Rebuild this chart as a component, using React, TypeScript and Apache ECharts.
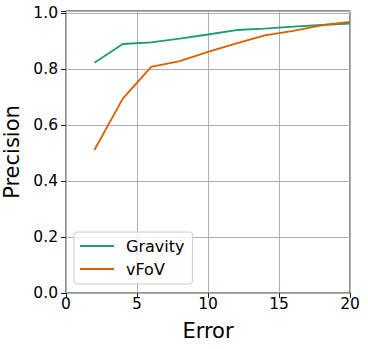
import React, { useEffect, useRef } from "react";
import * as echarts from "echarts";

const errors = [2, 4, 6, 8, 10, 12, 14, 16, 18, 20];
const gravity = [0.823, 0.89, 0.896, 0.909, 0.924, 0.94, 0.945, 0.952, 0.958, 0.963];
const vfov = [0.511, 0.695, 0.808, 0.829, 0.862, 0.892, 0.921, 0.937, 0.957, 0.969];
const seriesNames = ["Gravity", "vFoV"];
const seriesColors = ["#1b9e77", "#d95f02"];

const FONT = "DejaVu Sans";

export default function App() {
  const ref = useRef<HTMLDivElement>(null);
  useEffect(() => {
    document.body.style.margin = "0";
    const chart = echarts.init(ref.current!, null, { renderer: "svg" });
    const values = [gravity, vfov];
    chart.setOption({
      animation: false,
      textStyle: { fontFamily: FONT },
      grid: {
        left: 66,
        right: 18,
        top: 11,
        bottom: 56,
        outerBoundsMode: "none",
        containLabel: false,
        show: true,
        borderColor: "#222",
        borderWidth: 1,
        backgroundColor: "transparent",
      },
      legend: {
        left: 74,
        top: 232,
        orient: "vertical",
        icon: "rect",
        itemWidth: 34,
        itemHeight: 2,
        itemGap: 7,
        padding: [6, 8, 7, 6],
        backgroundColor: "rgba(255,255,255,0.8)",
        borderColor: "#cccccc",
        borderWidth: 1,
        borderRadius: 3,
        textStyle: {
          fontFamily: FONT,
          fontSize: 16,
          lineHeight: 16,
          color: "#000",
          padding: [0, 0, 0, 7],
        },
        data: seriesNames,
      },
      xAxis: {
        type: "value",
        min: 0,
        max: 20,
        interval: 5,
        name: "Error",
        nameLocation: "middle",
        nameGap: 27,
        nameTextStyle: { fontFamily: FONT, fontSize: 21, color: "#000" },
        axisLine: { show: false },
        axisTick: { show: true, length: 5, lineStyle: { color: "#222" } },
        axisLabel: { margin: 3, fontFamily: FONT, fontSize: 15.5, color: "#000" },
        splitLine: { show: true, lineStyle: { color: "#b0b0b0", width: 1 } },
      },
      yAxis: {
        type: "value",
        min: 0,
        max: 1.008,
        interval: 0.2,
        name: "Precision",
        nameLocation: "middle",
        nameGap: 35,
        nameTextStyle: { fontFamily: FONT, fontSize: 21, color: "#000" },
        axisLine: { show: false },
        axisTick: { show: true, length: 5, lineStyle: { color: "#222" } },
        axisLabel: {
          margin: 8,
          fontFamily: FONT,
          fontSize: 15.5,
          color: "#000",
          formatter: (v: number) => {
            const r = Math.round(v * 5) / 5;
            return Math.abs(r - v) < 1e-6 ? r.toFixed(1) : "";
          },
        },
        splitLine: { show: true, lineStyle: { color: "#b0b0b0", width: 1 } },
      },
      series: seriesNames.map((name, i) => ({
        name,
        type: "line",
        symbol: "none",
        data: errors.map((x, j) => [x, values[i][j]]),
        lineStyle: { color: seriesColors[i], width: 1.8 },
        itemStyle: { color: seriesColors[i] },
      })),
    });
    return () => chart.dispose();
  }, []);
  return (
    <div
      ref={ref}
      style={{ position: "absolute", left: 0, top: 0, width: 368, height: 349 }}
    />
  );
}
